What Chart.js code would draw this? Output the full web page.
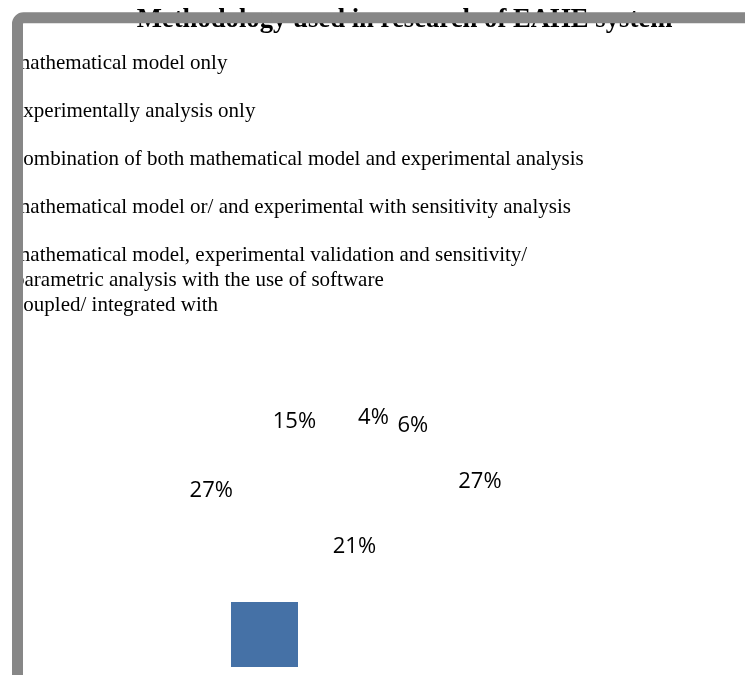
<!DOCTYPE html>
<html>
<head>
<meta charset="utf-8">
<script src="https://cdn.jsdelivr.net/npm/chart.js@4.4.1/dist/chart.umd.min.js"></script>
<style>
  html, body { margin: 0; padding: 0; background: #fff; }
  #wrap { width: 745px; height: 675px; position: relative; overflow: hidden; }
</style>
</head>
<body>
<div id="wrap"><canvas id="pie" width="745" height="675"></canvas></div>
<script>
// data
const chartTitle = 'Methodology used in research of EAHE system';
const categories = [
  'mathematical model only',
  'experimentally analysis only',
  'combination of both mathematical model and experimental analysis',
  'mathematical model or/ and experimental with sensitivity analysis',
  ['mathematical model, experimental validation and sensitivity/',
   'parametric analysis with the use of software',
   'coupled/ integrated with'],
  ''
];
const shares = [4, 6, 27, 21, 27, 15];

// draws title, text legend, % labels and the grey frame on top of the (blank) pie
const paperPlugin = {
  id: 'paper',
  afterDraw(chart) {
    const ctx = chart.ctx;
    ctx.save();
    ctx.fillStyle = '#000';

    // title (partly hidden by the frame, as in the original)
    ctx.font = 'bold 26.7px "Liberation Serif"';
    ctx.textAlign = 'center';
    ctx.textBaseline = 'alphabetic';
    ctx.fillText(chartTitle, 404.5, 27);

    // legend text
    ctx.font = '21px "Liberation Serif"';
    ctx.textAlign = 'left';
    ctx.textBaseline = 'middle';
    let y = 63;
    categories.forEach(c => {
      const lines = [].concat(c);
      lines.forEach((ln, i) => ctx.fillText(ln, 14, y + i * 25));
      y += (lines.length - 1) * 25 + 48;
    });

    // percentage labels, placed on a flattened ring (3d pie look)
    const meta = chart.getDatasetMeta(0);
    const total = shares.reduce((a, b) => a + b, 0);
    ctx.font = '22px "Open Sans"';
    ctx.textAlign = 'center';
    meta.data.forEach((arc, i) => {
      const mid = (arc.startAngle + arc.endAngle) / 2;
      const lx = arc.x + Math.cos(mid) * arc.outerRadius * 0.95;
      const ly = arc.y + Math.sin(mid) * arc.outerRadius * 0.46;
      ctx.fillText(Math.round(shares[i] / total * 100) + '%', lx, ly);
    });

    // lone legend key
    ctx.fillStyle = '#4571a6';
    ctx.fillRect(231, 602, 67, 65);

    // grey frame
    ctx.strokeStyle = '#878787';
    ctx.lineWidth = 11;
    ctx.beginPath();
    ctx.moveTo(17.5, 700);
    ctx.arcTo(17.5, 17.8, 60, 17.8, 6);
    ctx.lineTo(760, 17.8);
    ctx.stroke();
    ctx.restore();
  }
};

const ctx = document.getElementById('pie').getContext('2d');
new Chart(ctx, {
  type: 'pie',
  data: {
    labels: categories,
    datasets: [{
      data: shares,
      backgroundColor: '#ffffff',
      borderWidth: 0
    }]
  },
  options: {
    responsive: false,
    animation: false,
    events: [],
    rotation: 5,
    layout: { padding: { left: 203, right: 258, top: 340, bottom: 51 } },
    plugins: {
      legend: { display: false },
      title: { display: false },
      tooltip: { enabled: false }
    }
  },
  plugins: [paperPlugin]
});
</script>
</body>
</html>
